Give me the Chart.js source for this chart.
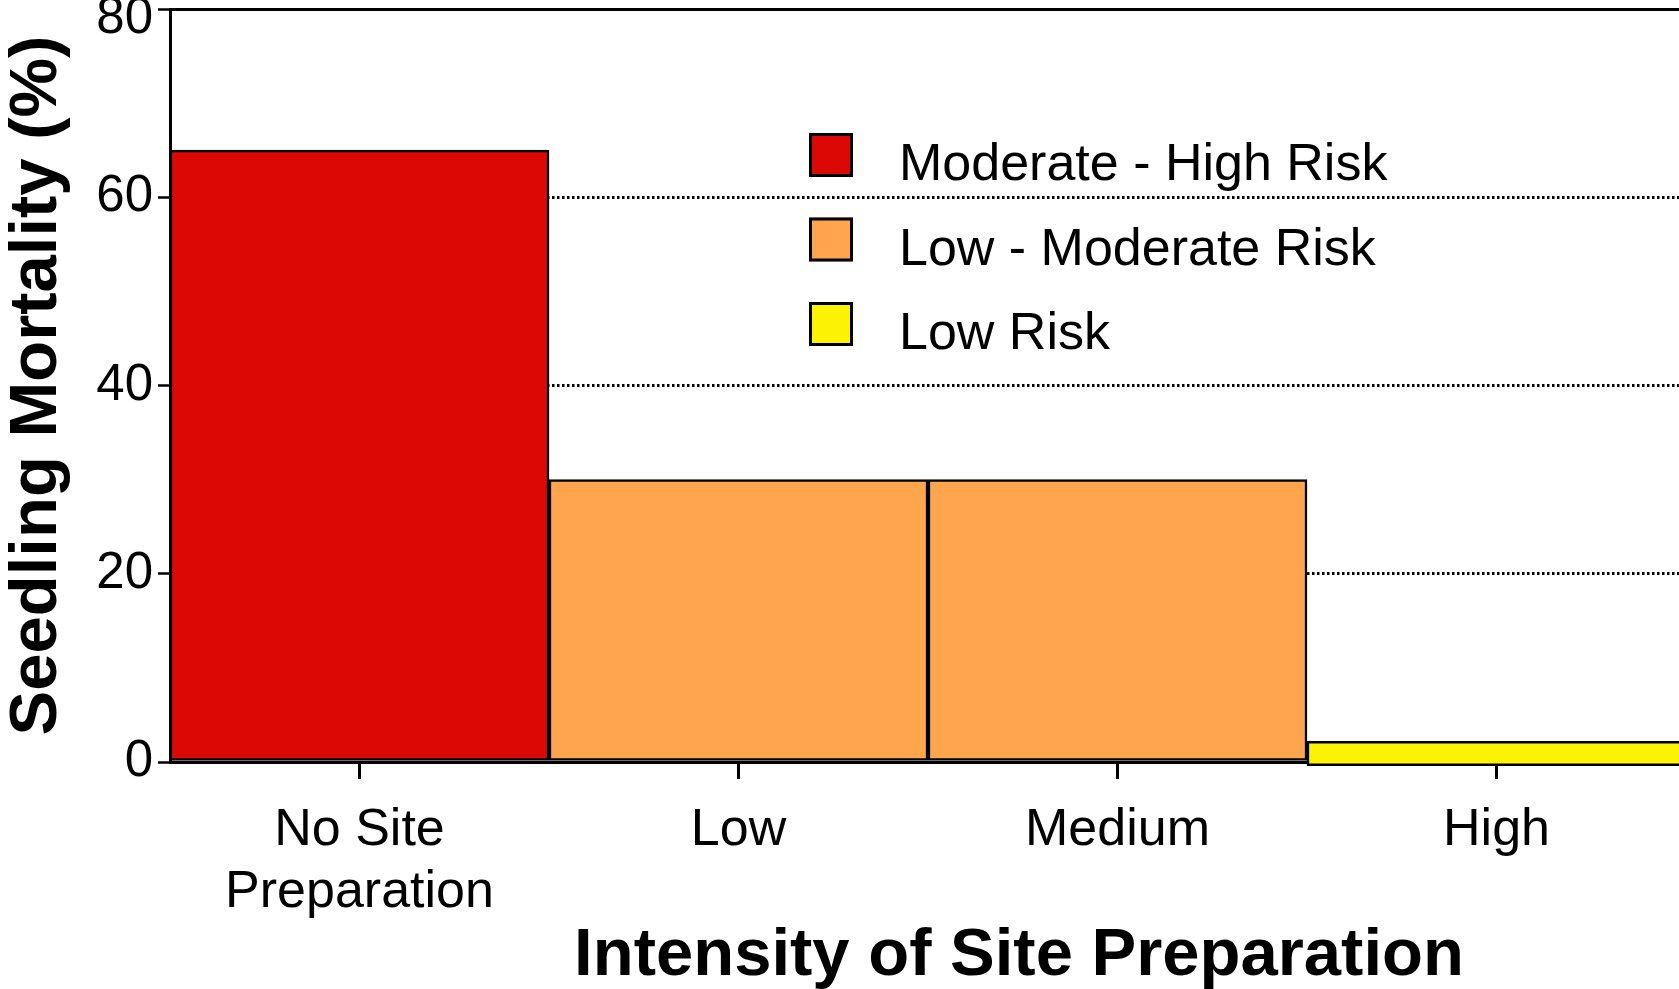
<!DOCTYPE html>
<html>
<head>
<meta charset="utf-8">
<script src="https://cdn.jsdelivr.net/npm/chart.js@4"></script>
<style>
  html, body { margin: 0; padding: 0; background: #fff; overflow: hidden; }
  #wrap { position: absolute; left: 0; top: 0; width: 1686px; height: 989px; }
</style>
</head>
<body>
<div id="wrap"><canvas id="chart"></canvas></div>
<script>
const categories = [["No Site", "Preparation"], "Low", "Medium", "High"];
const riskLabels = ["Moderate - High Risk", "Low - Moderate Risk", "Low Risk"];
const highRisk = [65, null, null, null];
const moderateRisk = [null, 30, 30, null];
const lowRisk = [null, null, null, [-0.4, 2.2]];
const yTicks = [0, 20, 40, 60, 80];
const xTitle = "Intensity of Site Preparation";
const yTitle = "Seedling Mortality (%)";

const FONT = "'Liberation Sans', Arial, sans-serif";
const yMax = yTicks[yTicks.length - 1];

// legend drawn inside the plot, like the original figure
const riskLegend = {
  id: "riskLegend",
  afterDatasetsDraw(chart) {
    const ctx = chart.ctx;
    ctx.save();
    chart.data.datasets.forEach((ds, i) => {
      const top = 133 + i * 84.5;
      ctx.fillStyle = ds.backgroundColor;
      ctx.fillRect(809, top, 44, 44);
      ctx.lineWidth = 3;
      ctx.strokeStyle = "#000";
      ctx.strokeRect(810.5, top + 1.5, 41, 41);
      ctx.fillStyle = "#000";
      ctx.font = "52px " + FONT;
      ctx.textAlign = "left";
      ctx.textBaseline = "alphabetic";
      ctx.fillText(ds.label, 899, top + 47);
    });
    ctx.restore();
  }
};

// x title sits right of centre, top y label sits a bit below its tick
const extraText = {
  id: "extraText",
  afterDraw(chart) {
    const ctx = chart.ctx;
    const y = chart.scales.y;
    ctx.save();
    ctx.fillStyle = "#000";
    ctx.font = "bold 67px " + FONT;
    ctx.textAlign = "center";
    ctx.textBaseline = "alphabetic";
    ctx.fillText(xTitle, 1019, 975);

    ctx.font = "51px " + FONT;
    ctx.textAlign = "right";
    ctx.textBaseline = "middle";
    ctx.fillText(String(yMax), y.right - 17, y.getPixelForValue(yMax) + 10);
    ctx.restore();
  }
};

const barStyle = {
  borderColor: "#000",
  borderWidth: 2.5,
  borderSkipped: false,
  grouped: false,
  barPercentage: 1,
  categoryPercentage: 1
};

new Chart(document.getElementById("chart"), {
  type: "bar",
  data: {
    labels: categories,
    datasets: [
      { label: riskLabels[0], data: highRisk, backgroundColor: "#dc0806", ...barStyle },
      { label: riskLabels[1], data: moderateRisk, backgroundColor: "#ffa54d", ...barStyle },
      { label: riskLabels[2], data: lowRisk, backgroundColor: "#fcf304", clip: false, ...barStyle }
    ]
  },
  options: {
    responsive: true,
    maintainAspectRatio: false,
    animation: false,
    devicePixelRatio: 1,
    layout: { padding: { top: 9, left: 0, right: 0, bottom: 0 } },
    plugins: {
      legend: { display: false },
      tooltip: { enabled: false }
    },
    scales: {
      x: {
        type: "category",
        position: "bottom",
        grid: {
          offset: false,
          drawOnChartArea: false,
          drawTicks: true,
          tickLength: 17,
          tickWidth: 3,
          tickColor: "#000"
        },
        border: { display: true, color: "#000", width: 3 },
        ticks: {
          color: "#000",
          font: { family: FONT, size: 52, lineHeight: 1.2 },
          padding: 20,
          autoSkip: false,
          maxRotation: 0
        },
        afterFit(s) {
          s.height = 227;
          s.paddingLeft = 0;
          s.paddingRight = 0;
        }
      },
      xTop: {
        type: "category",
        position: "top",
        grid: { drawOnChartArea: false, drawTicks: false },
        border: { display: true, color: "#000", width: 3 },
        ticks: { display: false },
        afterFit(s) {
          s.height = 0;
          s.paddingLeft = 0;
          s.paddingRight = 0;
        }
      },
      y: {
        min: yTicks[0],
        max: yMax,
        grid: {
          color: "#000",
          lineWidth: 3,
          tickLength: 12,
          tickWidth: 2.5,
          tickColor: "#000"
        },
        border: { display: true, color: "#000", width: 3, dash: [2.5, 2.5] },
        ticks: {
          stepSize: yTicks[1] - yTicks[0],
          color: "#000",
          font: { family: FONT, size: 51 },
          padding: 5,
          callback: v => v === yMax ? "" : String(v)
        },
        title: {
          display: true,
          text: yTitle,
          color: "#000",
          font: { family: FONT, size: 67, weight: "bold", lineHeight: 1 },
          padding: { top: 4, bottom: 0 }
        },
        afterFit(s) {
          s.width = 170;
          s.paddingTop = 0;
          s.paddingBottom = 0;
        }
      }
    }
  },
  plugins: [riskLegend, extraText]
});
</script>
</body>
</html>
